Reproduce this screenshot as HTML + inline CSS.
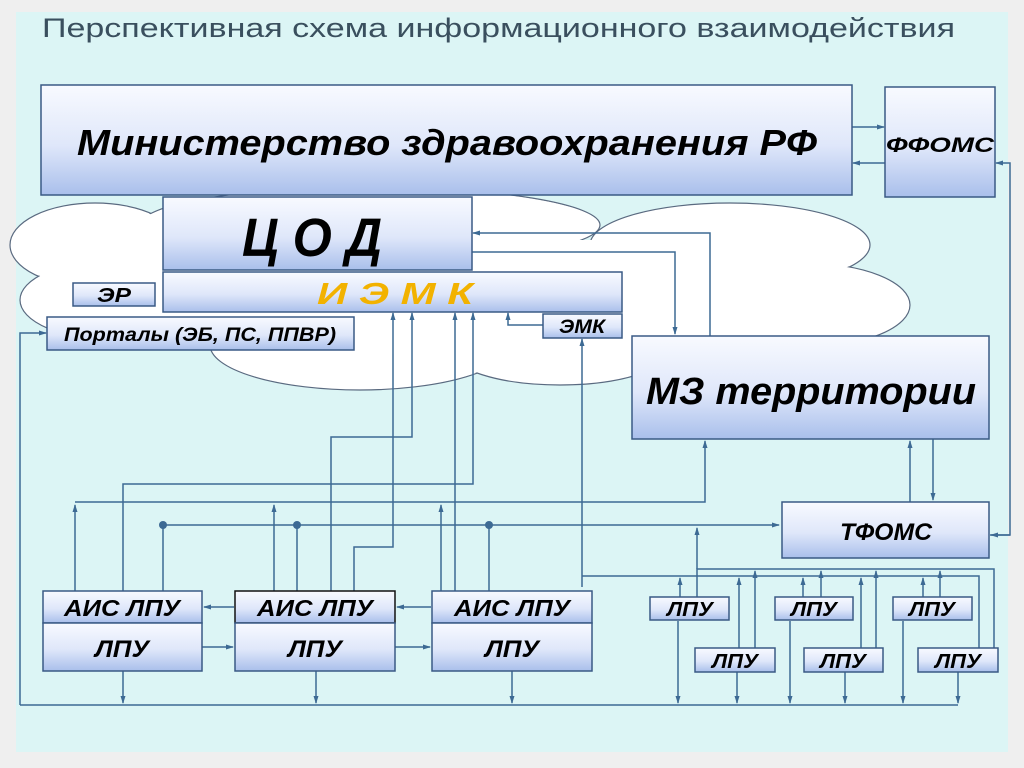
<!DOCTYPE html>
<html><head><meta charset="utf-8"><style>
html,body{margin:0;padding:0;background:#efefef;}
svg{display:block}
text{font-family:"Liberation Sans",Arial,sans-serif;}
.b{font-weight:bold;font-style:italic;fill:#000}
</style></head><body>
<svg width="1024" height="768" viewBox="0 0 1024 768" xmlns="http://www.w3.org/2000/svg">
<defs>
<linearGradient id="g" x1="0" y1="0" x2="0" y2="1">
<stop offset="0" stop-color="#f8faff"/><stop offset="0.55" stop-color="#dfe7fa"/><stop offset="1" stop-color="#a9bfeb"/></linearGradient>
<marker id="a" markerWidth="8" markerHeight="8" refX="7" refY="4" orient="auto" markerUnits="userSpaceOnUse">
<path d="M0,1.5 L8,4 L0,6.5 Z" fill="#3d6a94"/></marker>
</defs>
<rect x="0" y="0" width="1024" height="768" fill="#efefef"/>
<rect x="16" y="12" width="992" height="740" fill="#dcf5f5"/>
<text x="42" y="37" font-size="27" fill="#3a4f5e" textLength="913" lengthAdjust="spacingAndGlyphs">Перспективная схема информационного взаимодействия</text>

<!-- cloud -->
<g stroke="#5a6a80" stroke-width="1.2" fill="#fff">
<ellipse cx="95" cy="245" rx="85" ry="42"/>
<ellipse cx="115" cy="300" rx="95" ry="40"/>
<ellipse cx="370" cy="225" rx="230" ry="38"/>
<ellipse cx="730" cy="245" rx="140" ry="42"/>
<ellipse cx="805" cy="305" rx="105" ry="42"/>
<ellipse cx="360" cy="345" rx="150" ry="45"/>
<ellipse cx="560" cy="350" rx="110" ry="35"/>
<ellipse cx="700" cy="350" rx="90" ry="35"/>
</g>
<g fill="#fff">
<ellipse cx="95" cy="245" rx="84" ry="41"/>
<ellipse cx="115" cy="300" rx="94" ry="39"/>
<ellipse cx="370" cy="225" rx="229" ry="37"/>
<ellipse cx="730" cy="245" rx="139" ry="41"/>
<ellipse cx="805" cy="305" rx="104" ry="41"/>
<ellipse cx="360" cy="345" rx="149" ry="44"/>
<ellipse cx="560" cy="350" rx="109" ry="34"/>
<ellipse cx="700" cy="350" rx="89" ry="34"/>
<rect x="120" y="240" width="680" height="100"/>
</g>

<!-- connectors -->
<g stroke="#3d6a94" stroke-width="1.5" fill="none">
<line x1="852" y1="127" x2="884" y2="127" marker-end="url(#a)"/>
<line x1="885" y1="163" x2="853" y2="163" marker-end="url(#a)"/>
<polyline points="710,336 710,233 473,233" marker-end="url(#a)"/>
<polyline points="472,252 675,252 675,334" marker-end="url(#a)"/>
<polyline points="543,325 508,325 508,313" marker-end="url(#a)"/>
<polyline points="582,587 582,339" marker-end="url(#a)"/>
<polyline points="20,705 20,333 46,333" marker-end="url(#a)"/>
<polyline points="393,354 393,313" marker-end="url(#a)"/>
<polyline points="354,591 354,547 393,547 393,354"/>
<polyline points="331,591 331,437 412,437 412,313" marker-end="url(#a)"/>
<polyline points="455,591 455,313" marker-end="url(#a)"/>
<polyline points="123,591 123,484 473,484 473,313" marker-end="url(#a)"/>
<polyline points="75,591 75,505" marker-end="url(#a)"/>
<polyline points="274,591 274,505" marker-end="url(#a)"/>
<polyline points="441,591 441,505" marker-end="url(#a)"/>
<polyline points="75,502 705,502 705,441" marker-end="url(#a)"/>
<polyline points="163,525 779,525" marker-end="url(#a)"/>
<line x1="163" y1="525" x2="163" y2="591"/>
<line x1="297" y1="525" x2="297" y2="591"/>
<line x1="489" y1="525" x2="489" y2="591"/>
<line x1="910" y1="502" x2="910" y2="441" marker-end="url(#a)"/>
<line x1="933" y1="439" x2="933" y2="500" marker-end="url(#a)"/>
<polyline points="990,535 1010,535 1010,163 996,163" marker-end="url(#a)"/>
<line x1="1010" y1="535" x2="991" y2="535" marker-end="url(#a)"/>
<line x1="234" y1="607" x2="204" y2="607" marker-end="url(#a)"/>
<line x1="431" y1="607" x2="397" y2="607" marker-end="url(#a)"/>
<line x1="202" y1="647" x2="233" y2="647" marker-end="url(#a)"/>
<line x1="395" y1="647" x2="430" y2="647" marker-end="url(#a)"/>
<line x1="20" y1="705" x2="958" y2="705"/>
<line x1="123" y1="671" x2="123" y2="703" marker-end="url(#a)"/>
<line x1="316" y1="671" x2="316" y2="703" marker-end="url(#a)"/>
<line x1="512" y1="671" x2="512" y2="703" marker-end="url(#a)"/>
<line x1="678" y1="621" x2="678" y2="703" marker-end="url(#a)"/>
<line x1="737" y1="672" x2="737" y2="703" marker-end="url(#a)"/>
<line x1="790" y1="621" x2="790" y2="703" marker-end="url(#a)"/>
<line x1="845" y1="672" x2="845" y2="703" marker-end="url(#a)"/>
<line x1="903" y1="621" x2="903" y2="703" marker-end="url(#a)"/>
<line x1="958" y1="672" x2="958" y2="703" marker-end="url(#a)"/>
<polyline points="582,576 979,576 979,648"/>
<polyline points="697,597 697,569 994,569 994,648"/>
<line x1="697" y1="569" x2="697" y2="528" marker-end="url(#a)"/>
<line x1="680" y1="597" x2="680" y2="578" marker-end="url(#a)"/>
<line x1="739" y1="648" x2="739" y2="578" marker-end="url(#a)"/>
<line x1="755" y1="648" x2="755" y2="571" marker-end="url(#a)"/>
<line x1="803" y1="597" x2="803" y2="578" marker-end="url(#a)"/>
<line x1="821" y1="597" x2="821" y2="571" marker-end="url(#a)"/>
<line x1="861" y1="648" x2="861" y2="578" marker-end="url(#a)"/>
<line x1="876" y1="648" x2="876" y2="571" marker-end="url(#a)"/>
<line x1="923" y1="597" x2="923" y2="578" marker-end="url(#a)"/>
<line x1="940" y1="597" x2="940" y2="571" marker-end="url(#a)"/>
</g>
<g fill="#3d6a94"><circle cx="163" cy="525" r="4"/><circle cx="297" cy="525" r="4"/><circle cx="489" cy="525" r="4"/></g>

<!-- boxes -->
<g fill="url(#g)" stroke="#3a5a85" stroke-width="1.5">
<rect x="41" y="85" width="811" height="110"/>
<rect x="885" y="87" width="110" height="110"/>
<rect x="163" y="197" width="309" height="73"/>
<rect x="163" y="272" width="459" height="40"/>
<rect x="73" y="283" width="82" height="23"/>
<rect x="47" y="317" width="307" height="33"/>
<rect x="543" y="314" width="79" height="24"/>
<rect x="632" y="336" width="357" height="103"/>
<rect x="782" y="502" width="207" height="56"/>
<rect x="43" y="591" width="159" height="32"/>
<rect x="43" y="623" width="159" height="48"/>
<rect x="235" y="591" width="160" height="32" stroke="#111"/>
<rect x="235" y="623" width="160" height="48"/>
<rect x="432" y="591" width="160" height="32"/>
<rect x="432" y="623" width="160" height="48"/>
<rect x="650" y="597" width="79" height="23"/>
<rect x="775" y="597" width="78" height="23"/>
<rect x="893" y="597" width="79" height="23"/>
<rect x="695" y="648" width="80" height="24"/>
<rect x="804" y="648" width="79" height="24"/>
<rect x="918" y="648" width="80" height="24"/>
</g>

<g class="b" text-anchor="middle">
<text x="447" y="155" font-size="36" textLength="740" lengthAdjust="spacingAndGlyphs">Министерство здравоохранения РФ</text>
<text x="940" y="152" font-size="21" textLength="108" lengthAdjust="spacingAndGlyphs">ФФОМС</text>
<text x="312" y="256" font-size="54" textLength="140" lengthAdjust="spacingAndGlyphs">Ц О Д</text>
<text x="395" y="304" font-size="31" style="fill:#f2b200" textLength="156" lengthAdjust="spacingAndGlyphs">И Э М К</text>
<text x="114" y="302" font-size="20" textLength="34" lengthAdjust="spacingAndGlyphs">ЭР</text>
<text x="200" y="341" font-size="19" textLength="272" lengthAdjust="spacingAndGlyphs">Порталы  (ЭБ, ПС, ППВР)</text>
<text x="582" y="333" font-size="19" textLength="46" lengthAdjust="spacingAndGlyphs">ЭМК</text>
<text x="811" y="404" font-size="38" textLength="330" lengthAdjust="spacingAndGlyphs">МЗ территории</text>
<text x="886" y="540" font-size="24" textLength="92" lengthAdjust="spacingAndGlyphs">ТФОМС</text>
<text x="122" y="616" font-size="23" textLength="116" lengthAdjust="spacingAndGlyphs">АИС ЛПУ</text>
<text x="315" y="616" font-size="23" textLength="116" lengthAdjust="spacingAndGlyphs">АИС ЛПУ</text>
<text x="512" y="616" font-size="23" textLength="116" lengthAdjust="spacingAndGlyphs">АИС ЛПУ</text>
<text x="122" y="657" font-size="24" textLength="54" lengthAdjust="spacingAndGlyphs">ЛПУ</text>
<text x="315" y="657" font-size="24" textLength="54" lengthAdjust="spacingAndGlyphs">ЛПУ</text>
<text x="512" y="657" font-size="24" textLength="54" lengthAdjust="spacingAndGlyphs">ЛПУ</text>
<text x="690" y="616" font-size="20" textLength="46" lengthAdjust="spacingAndGlyphs">ЛПУ</text>
<text x="814" y="616" font-size="20" textLength="46" lengthAdjust="spacingAndGlyphs">ЛПУ</text>
<text x="932" y="616" font-size="20" textLength="46" lengthAdjust="spacingAndGlyphs">ЛПУ</text>
<text x="735" y="668" font-size="20" textLength="46" lengthAdjust="spacingAndGlyphs">ЛПУ</text>
<text x="843" y="668" font-size="20" textLength="46" lengthAdjust="spacingAndGlyphs">ЛПУ</text>
<text x="958" y="668" font-size="20" textLength="46" lengthAdjust="spacingAndGlyphs">ЛПУ</text>
</g>
</svg>
</body></html>
